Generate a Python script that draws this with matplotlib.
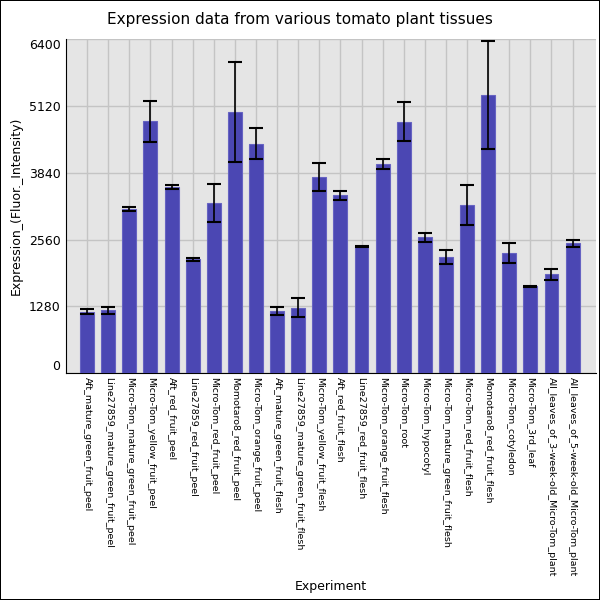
import matplotlib
matplotlib.use("Agg")
import matplotlib.pyplot as plt

experiments = [
    "Aft_mature_green_fruit_peel",
    "Line27859_mature_green_fruit_peel",
    "Micro-Tom_mature_green_fruit_peel",
    "Micro-Tom_yellow_fruit_peel",
    "Aft_red_fruit_peel",
    "Line27859_red_fruit_peel",
    "Micro-Tom_red_fruit_peel",
    "Momotaro8_red_fruit_peel",
    "Micro-Tom_orange_fruit_peel",
    "Aft_mature_green_fruit_flesh",
    "Line27859_mature_green_fruit_flesh",
    "Micro-Tom_yellow_fruit_flesh",
    "Aft_red_fruit_flesh",
    "Line27859_red_fruit_flesh",
    "Micro-Tom_orange_fruit_flesh",
    "Micro-Tom_root",
    "Micro-Tom_hypocotyl",
    "Micro-Tom_mature_green_fruit_flesh",
    "Micro-Tom_red_fruit_flesh",
    "Momotaro8_red_fruit_flesh",
    "Micro-Tom_cotyledon",
    "Micro-Tom_3rd_leaf",
    "All_leaves_of_3-week-old_Micro-Tom_plant",
    "All_leaves_of_5-week-old_Micro-Tom_plant",
]
means = [1178, 1203, 3148, 4823, 3572, 2180, 3257, 5001, 4393, 1188, 1251, 3753,
         3406, 2430, 4011, 4820, 2601, 2228, 3221, 5320, 2298, 1664, 1891, 2489]
errors = [45, 70, 42, 398, 38, 29, 360, 965, 300, 74, 182, 271,
          83, 10, 96, 376, 86, 140, 376, 1035, 191, 10, 108, 64]
yticks = [0, 1280, 2560, 3840, 5120, 6400]

fig = plt.figure(figsize=(6, 6), dpi=100)
fig.patch.set_edgecolor("black")
fig.patch.set_linewidth(1.2)
ax = fig.add_axes([0.11, 0.378, 0.883, 0.557])
ax.set_facecolor("#e5e5e5")

x = list(range(len(experiments)))
ax.bar(x, means, width=0.66, color="#4b47b3", edgecolor="#6663c2", linewidth=0.8,
       yerr=errors, capsize=5, error_kw={"ecolor": "black", "elinewidth": 1.2, "capthick": 1.5},
       zorder=3)

ax.set_xlim(-1, 24.1)
ax.set_ylim(0, 6400)
ax.set_xticks(x)
ax.set_xticklabels(experiments, rotation=-90, fontsize=6.8)
ax.set_yticks(yticks)
ax.set_yticklabels([str(t) for t in yticks], fontsize=9)
labels = ax.get_yticklabels()
labels[0].set_va("bottom")
labels[-1].set_va("top")
ax.tick_params(axis="y", length=0, pad=4)
ax.tick_params(axis="x", length=0, pad=3)
ax.grid(True, color="#c4c4c4", linewidth=1, zorder=0)
ax.set_axisbelow(True)
for side in ["top", "right"]:
    ax.spines[side].set_visible(False)

fig.suptitle("Expression data from various tomato plant tissues", fontsize=11, x=0.5, y=0.98)
ax.set_ylabel("Expression_(Fluor._Intensity)", fontsize=9)
ax.set_xlabel("Experiment", fontsize=9, labelpad=2)

fig.savefig("out.png", dpi=100, edgecolor=fig.get_edgecolor())
